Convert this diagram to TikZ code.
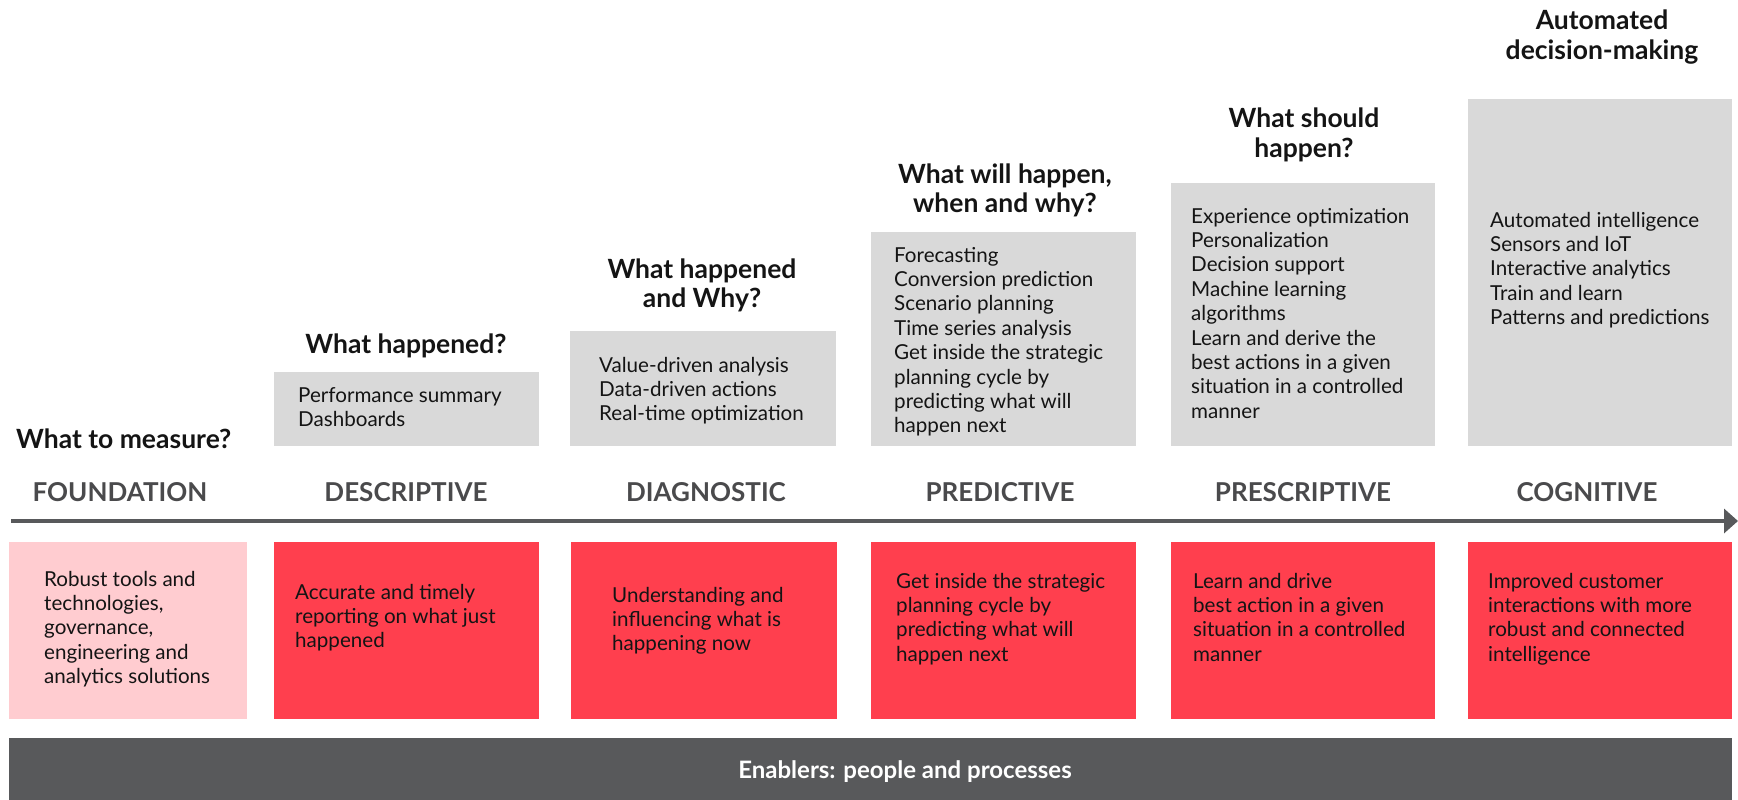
\documentclass[tikz,border=0pt]{standalone}
\usepackage{fontspec}
\setmainfont{Lato}
\usetikzlibrary{arrows.meta}

\definecolor{boxred}{HTML}{FF3F4E}
\definecolor{boxpink}{HTML}{FFCCD0}
\definecolor{boxgray}{HTML}{D9D9D9}
\definecolor{bardark}{HTML}{58595B}
\definecolor{labelgray}{HTML}{4A4A4C}
\definecolor{inktext}{HTML}{141414}

\newcommand{\leftlines}[1]{\parbox[t]{300pt}{\raggedright #1}}
\newcommand{\midlines}[1]{\parbox[t]{300pt}{\centering #1}}

\begin{document}
\begin{tikzpicture}[x=1pt,y=-1pt,
  card/.style={anchor=north west, inner sep=0pt, outer sep=0pt, draw=none},
  graycard/.style={card, fill=boxgray},
  redcard/.style={card, fill=boxred},
  body/.style={anchor=base west, inner sep=0pt, text=inktext,
    font={\fontsize{20.6}{24.4}\selectfont}},
  question/.style={anchor=base, inner sep=0pt, text=inktext,
    font={\fontsize{26.5}{29.5}\selectfont\bfseries}},
  stage/.style={anchor=base, inner sep=0pt, text=labelgray,
    font={\fontsize{26}{30}\selectfont\bfseries}},
]
\useasboundingbox (0,0) rectangle (1738,800);

% ---- upper grey panels (height grows with maturity) ----
\node[graycard, minimum width=265, minimum height=74]  (gDesc)  at (274,372) {};
\node[graycard, minimum width=266, minimum height=115] (gDiag)  at (570,331) {};
\node[graycard, minimum width=265, minimum height=214] (gPred)  at (871,232) {};
\node[graycard, minimum width=264, minimum height=263] (gPresc) at (1171,183) {};
\node[graycard, minimum width=264, minimum height=347] (gCog)   at (1468,99) {};

% ---- questions above each panel ----
\node[question, anchor=base west] (qFound) at (16,448) {What to measure?};
\node[question] (qDesc)  at (406,353)  {\midlines{What happened?}};
\node[question] (qDiag)  at (702,278)  {\midlines{What happened\\and Why?}};
\node[question] (qPred)  at (1005,183) {\midlines{What will happen,\\when and why?}};
\node[question] (qPresc) at (1304,128) {\midlines{What should\\happen?}};
\node[question] (qCog)   at (1602,30)  {\midlines{Automated\\decision-making}};

% ---- panel contents ----
\node[body] (tDesc)  at (298,402)  {\leftlines{Performance summary\\Dashboards}};
\node[body] (tDiag)  at (599,372)  {\leftlines{Value-driven analysis\\Data-driven actions\\Real-time optimization}};
\node[body] (tPred)  at (894,262)  {\leftlines{Forecasting\\Conversion prediction\\Scenario planning\\Time series analysis\\Get inside the strategic\\planning cycle by\\predicting what will\\happen next}};
\node[body] (tPresc) at (1191,223) {\leftlines{Experience optimization\\Personalization\\Decision support\\Machine learning\\algorithms\\Learn and derive the\\best actions in a given\\situation in a controlled\\manner}};
\node[body] (tCog)   at (1490,227) {\leftlines{Automated intelligence\\Sensors and IoT\\Interactive analytics\\Train and learn\\Patterns and predictions}};

% ---- stage names ----
\node[stage] (sFound) at (120,501)  {FOUNDATION};
\node[stage] (sDesc)  at (406,501)  {DESCRIPTIVE};
\node[stage] (sDiag)  at (706,501)  {DIAGNOSTIC};
\node[stage] (sPred)  at (1000,501) {PREDICTIVE};
\node[stage] (sPresc) at (1303,501) {PRESCRIPTIVE};
\node[stage] (sCog)   at (1587,501) {COGNITIVE};

% ---- timeline arrow ----
\coordinate (axisStart) at (11,521);
\coordinate (axisEnd)   at (1738,521);
\draw[bardark, line width=4pt, -{Triangle[length=14pt,width=24pt]}] (axisStart) -- (axisEnd);

% ---- lower outcome cards ----
\node[card, fill=boxpink, minimum width=238, minimum height=177] (rFound) at (9,542) {};
\node[redcard, minimum width=265, minimum height=177] (rDesc)  at (274,542) {};
\node[redcard, minimum width=266, minimum height=177] (rDiag)  at (571,542) {};
\node[redcard, minimum width=265, minimum height=177] (rPred)  at (871,542) {};
\node[redcard, minimum width=264, minimum height=177] (rPresc) at (1171,542) {};
\node[redcard, minimum width=264, minimum height=177] (rCog)   at (1468,542) {};

\node[body] (oFound) at (44,586)   {\leftlines{Robust tools and\\technologies,\\governance,\\engineering and\\analytics solutions}};
\node[body] (oDesc)  at (295,599)  {\leftlines{Accurate and timely\\reporting on what just\\happened}};
\node[body] (oDiag)  at (612,602)  {\leftlines{Understanding and\\influencing what is\\happening now}};
\node[body] (oPred)  at (896,588)  {\leftlines{Get inside the strategic\\planning cycle by\\predicting what will\\happen next}};
\node[body] (oPresc) at (1193,588) {\leftlines{Learn and drive\\best action in a given\\situation in a controlled\\manner}};
\node[body] (oCog)   at (1488,588) {\leftlines{Improved customer\\interactions with more\\robust and connected\\intelligence}};

% ---- enablers bar ----
\node[card, fill=bardark, minimum width=1723, minimum height=62] (bar) at (9,738) {};
\node[anchor=base, inner sep=0pt, text=white,
  font={\fontsize{24}{28}\selectfont\bfseries}] (barText) at (905,778) {Enablers: people and processes};
\end{tikzpicture}
\end{document}
